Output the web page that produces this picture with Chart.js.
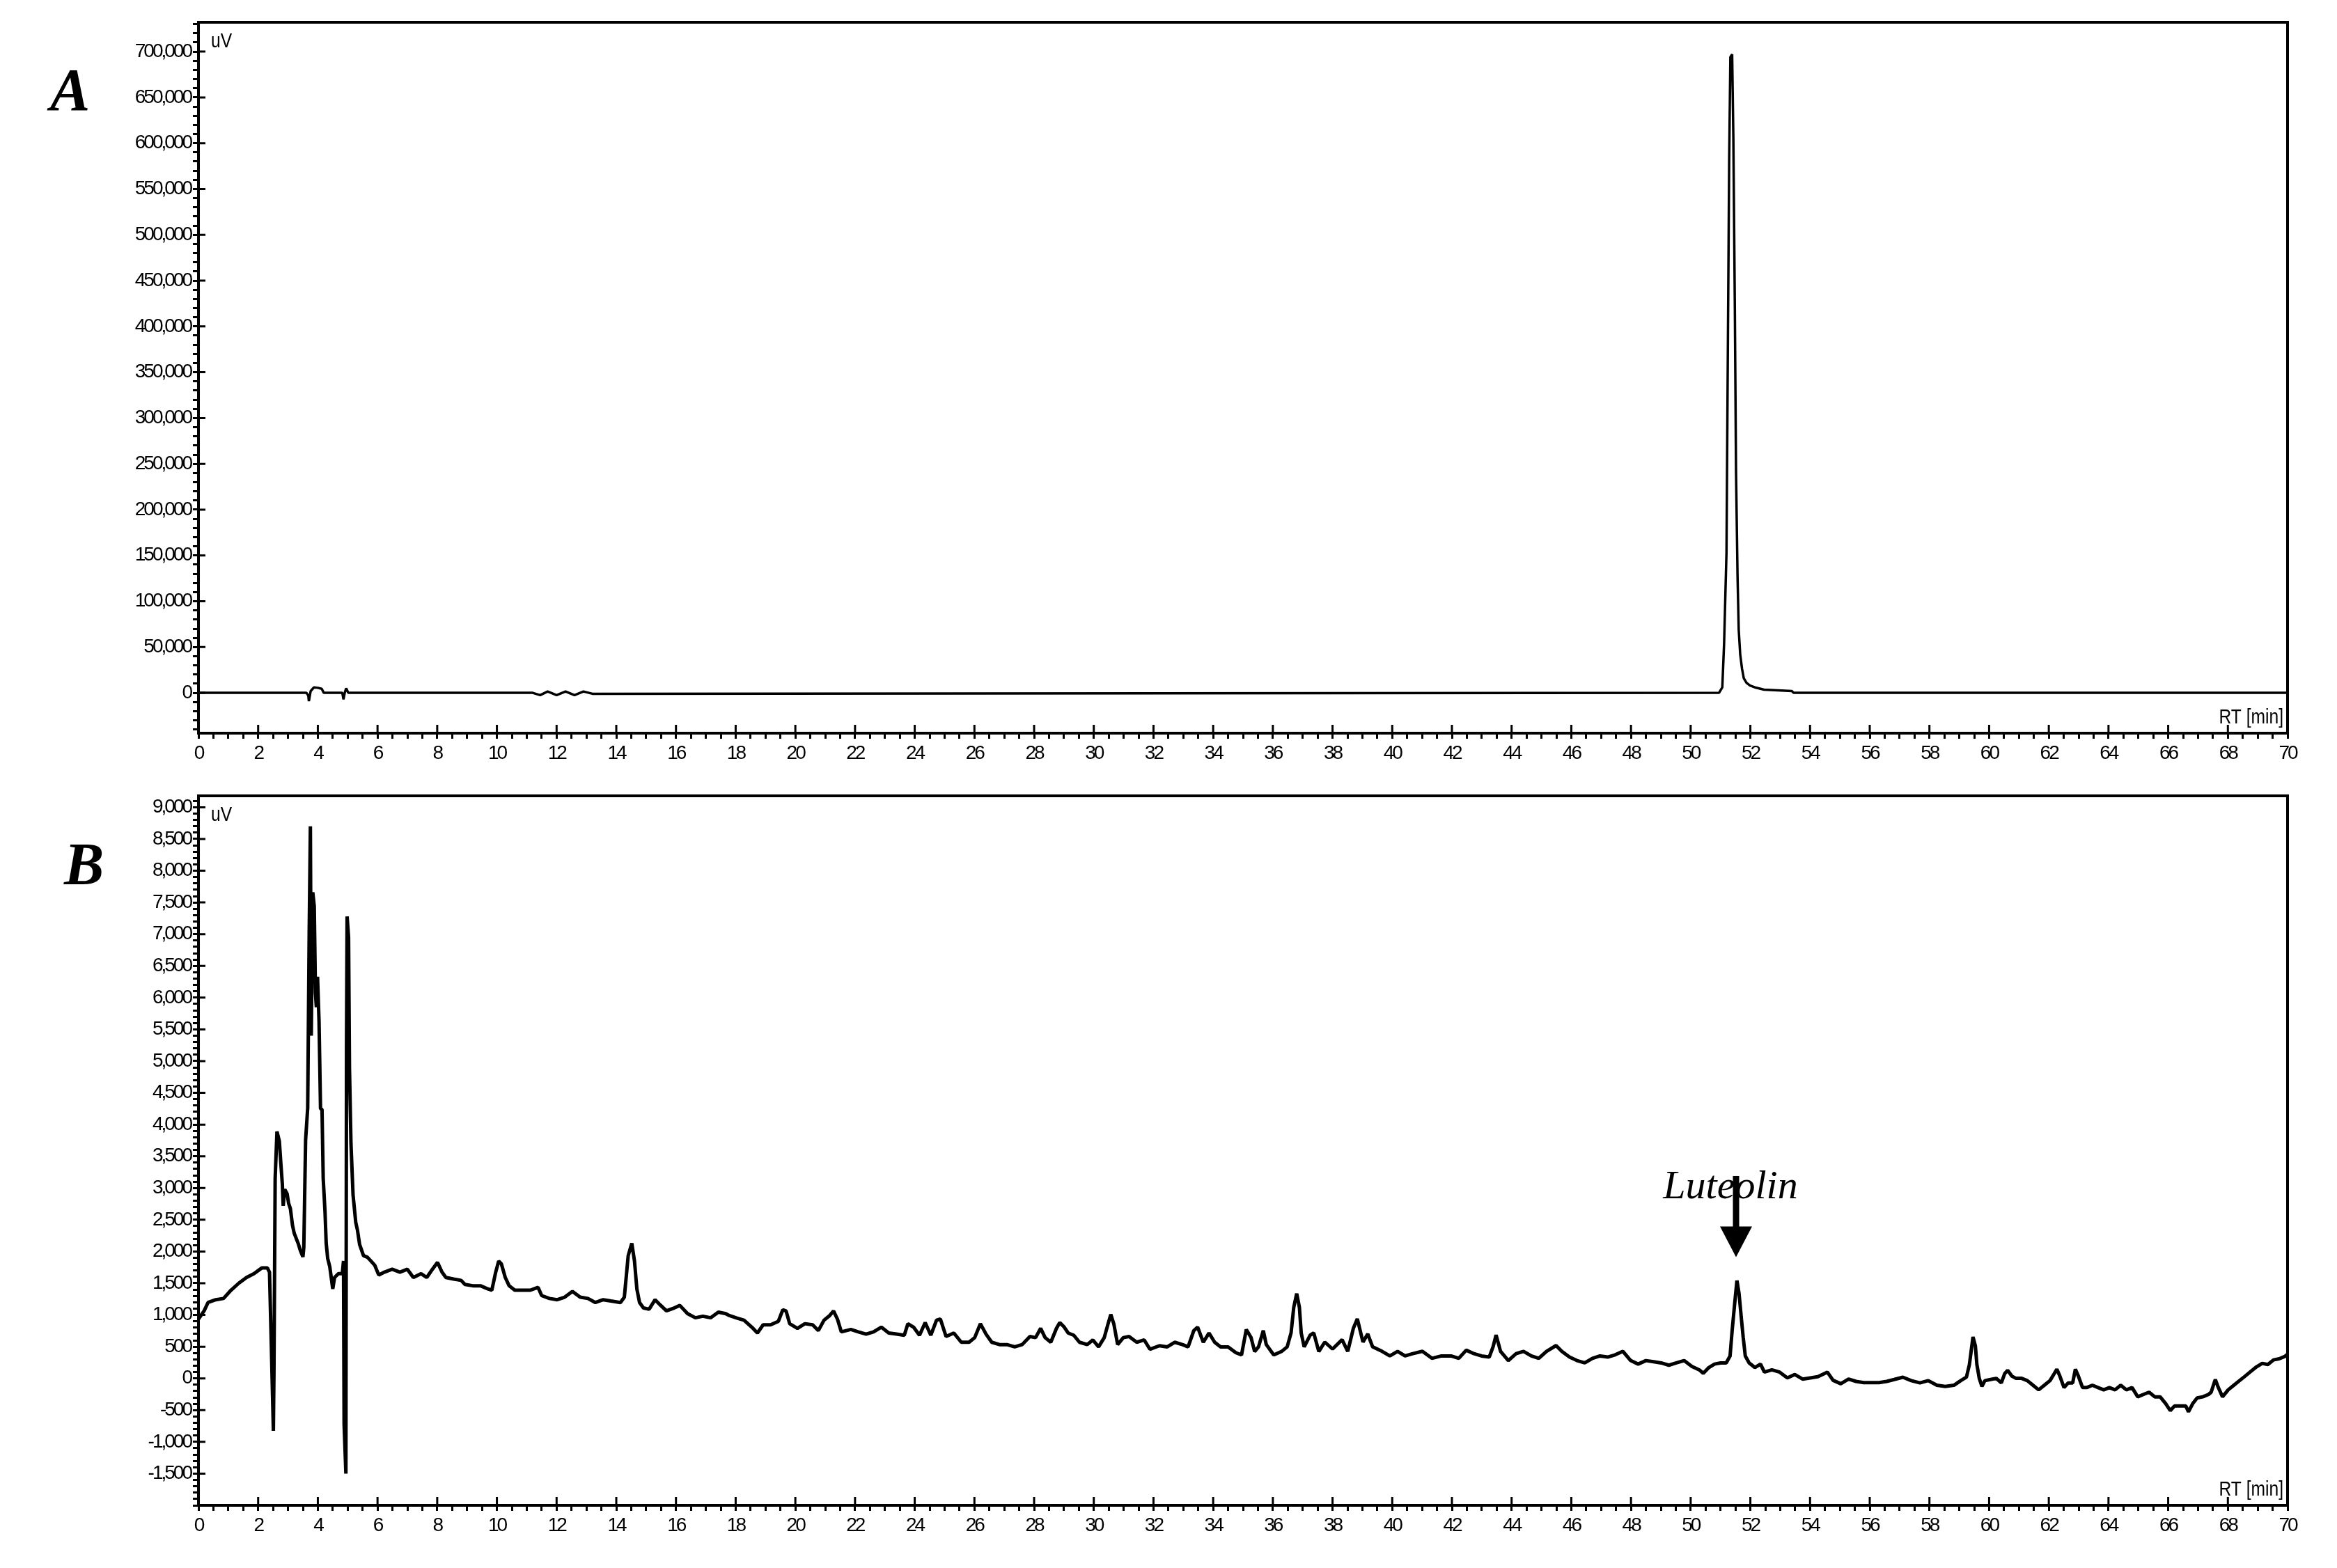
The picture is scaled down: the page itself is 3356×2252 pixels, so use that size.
<!DOCTYPE html>
<html>
<head>
<meta charset="utf-8">
<title>HPLC chromatograms - luteolin</title>
<script src="https://cdn.jsdelivr.net/npm/chart.js@4.4.1/dist/chart.umd.min.js"></script>
<style>
    html, body { margin: 0; padding: 0; background: #fff; }
    #page { position: relative; width: 3356px; height: 2252px; overflow: hidden; }
    .panel { position: absolute; left: 0; width: 3356px; }
    #panelA { top: 0; height: 1110px; }
    #panelB { top: 1110px; height: 1142px; }
    .letter {
        position: absolute;
        font: bold italic 86px "Liberation Serif", "DejaVu Serif", serif;
        line-height: 86px;
        color: #000;
    }
</style>
</head>
<body>
<div id="page">
    <div class="panel" id="panelA"><canvas id="chartA"></canvas></div>
    <div class="panel" id="panelB"><canvas id="chartB"></canvas></div>
    <div class="letter" style="left:72px; top:86px;">A</div>
    <div class="letter" style="left:92px; top:1198px;">B</div>
</div>
<script>
    'use strict';

    // Panel A: luteolin standard (RT in min, signal in uV)
    var rtA = [0, 3.62, 3.68, 3.70, 3.76, 3.87, 4.00, 4.13, 4.20, 4.82,
        4.86, 4.90, 4.95, 5.02, 11.20, 11.45, 11.70, 12.00, 12.30, 12.60,
        12.90, 13.20, 50.95, 51.06, 51.12, 51.20, 51.24, 51.29, 51.33, 51.39,
        51.43, 51.48, 51.52, 51.57, 51.61, 51.66, 51.72, 51.78, 51.87, 51.99,
        52.15, 52.46, 53.39, 53.45, 70];
    var uvA = [0, 0, -3000, -9000, 2000, 6000, 5500, 4500, 0, 0,
        -7000, 0, 5000, 0, 0, -2500, 1500, -2500, 1500, -2500,
        1500, -1000, 0, 6000, 54000, 153000, 347000, 582000, 694000, 697000,
        607000, 420000, 241000, 128000, 69000, 42000, 26500, 16000, 11000, 8000,
        6000, 3500, 2000, 0, 0];

    // Panel B: sample extract, read in four stretches
    var rtB1 = [0.00, 0.19, 0.32, 0.58, 0.84, 1.09, 1.35, 1.61, 1.86, 2.12,
        2.31, 2.38, 2.44, 2.51, 2.53, 2.57, 2.63, 2.71, 2.76, 2.81,
        2.84, 2.89, 2.97, 3.02, 3.08, 3.15, 3.21, 3.28, 3.34, 3.41,
        3.50, 3.53, 3.59, 3.66, 3.71, 3.75, 3.78, 3.83, 3.88, 3.92,
        3.95, 3.99, 4.04, 4.09, 4.14, 4.18, 4.24, 4.28, 4.33, 4.40,
        4.50, 4.56, 4.69, 4.82, 4.86, 4.88, 4.94, 4.96, 4.98, 5.03,
        5.06, 5.11, 5.18, 5.27, 5.33, 5.40, 5.53, 5.66, 5.78, 5.91,
        6.04, 6.23, 6.49, 6.75, 7.00, 7.20, 7.46, 7.65, 7.84, 8.01,
        8.16, 8.29, 8.55, 8.80, 8.93, 9.19, 9.45, 9.70, 9.83, 9.96,
        10.06, 10.15, 10.28, 10.41, 10.60, 10.86, 11.12, 11.38, 11.50, 11.76,
        12.02, 12.27, 12.53, 12.79, 13.05, 13.30, 13.56, 13.82, 14.14, 14.27,
        14.40, 14.52, 14.61, 14.69, 14.78, 14.91, 15.10, 15.30, 15.49, 15.68,
        15.94, 16.13, 16.39, 16.65, 16.90, 17.16, 17.42, 17.67];
    var uvB1 = [935, 1065, 1196, 1240, 1260, 1390, 1500, 1590, 1650, 1740,
        1740, 1675, 545, -826, 110, 3150, 3890, 3740, 3390, 3065,
        2720, 2980, 2910, 2760, 2675, 2415, 2285, 2200, 2130, 2020,
        1915, 2065, 3760, 4260, 7020, 8700, 5400, 7660, 7440, 6070,
        5850, 6330, 5630, 4250, 4240, 3150, 2630, 2130, 1890, 1760,
        1410, 1590, 1650, 1650, 1850, -720, -1500, 5200, 7280, 6950,
        4890, 3700, 2890, 2460, 2330, 2110, 1935, 1910, 1850, 1780,
        1630, 1675, 1720, 1675, 1720, 1590, 1650, 1590, 1720, 1830,
        1675, 1590, 1565, 1545, 1480, 1460, 1460, 1410, 1390, 1675,
        1850, 1805, 1590, 1460, 1390, 1390, 1390, 1435, 1305, 1260,
        1240, 1280, 1370, 1280, 1260, 1196, 1240, 1220, 1196, 1280,
        1935, 2130, 1850, 1410, 1196, 1110, 1090, 1240, 1150, 1065,
        1110, 1150, 1020, 955, 980, 955, 1045, 1020];

    var rtB2 = [17.77, 18.03, 18.28, 18.54, 18.73, 18.92, 19.17, 19.43, 19.58, 19.69,
        19.81, 20.07, 20.32, 20.58, 20.77, 20.96, 21.15, 21.28, 21.41, 21.54,
        21.86, 22.11, 22.37, 22.62, 22.88, 23.13, 23.39, 23.65, 23.77, 23.96,
        24.16, 24.35, 24.54, 24.73, 24.86, 25.05, 25.31, 25.56, 25.82, 26.01,
        26.20, 26.39, 26.58, 26.84, 27.09, 27.35, 27.60, 27.86, 28.05, 28.22,
        28.37, 28.56, 28.75, 28.86, 29.01, 29.14, 29.33, 29.52, 29.78, 29.97,
        30.16, 30.35, 30.48, 30.57, 30.67, 30.80, 30.99, 31.18, 31.44, 31.69,
        31.88, 32.20, 32.46, 32.71, 32.97, 33.16, 33.35, 33.48, 33.67, 33.86,
        34.05, 34.25, 34.50, 34.76, 34.95, 35.11, 35.27, 35.39, 35.52, 35.68,
        35.78, 36.03, 36.29, 36.48, 36.61, 36.70, 36.80, 36.89, 36.95, 37.05,
        37.25, 37.37, 37.54];
    var uvB2 = [994, 953, 917, 808, 716, 844, 844, 899, 1081, 1063,
        862, 789, 862, 844, 753, 917, 990, 1063, 935, 734,
        771, 734, 698, 734, 808, 716, 698, 680, 862, 808,
        680, 880, 680, 917, 935, 661, 716, 570, 570, 643,
        862, 698, 570, 533, 533, 497, 533, 661, 643, 789,
        643, 570, 789, 880, 808, 716, 680, 570, 533, 606,
        497, 643, 862, 1008, 862, 533, 643, 661, 570, 606,
        460, 515, 497, 570, 533, 497, 753, 808, 570, 716,
        570, 497, 497, 406, 370, 771, 643, 424, 497, 753,
        533, 370, 424, 497, 716, 1118, 1337, 1118, 716, 497,
        680, 716, 424];

    var rtB3 = [37.74, 38.00, 38.32, 38.51, 38.70, 38.83, 39.02, 39.18, 39.34, 39.66,
        39.92, 40.18, 40.43, 40.69, 41.01, 41.33, 41.65, 41.97, 42.23, 42.48,
        42.74, 42.99, 43.25, 43.38, 43.48, 43.63, 43.89, 44.15, 44.40, 44.66,
        44.91, 45.17, 45.49, 45.68, 45.94, 46.19, 46.45, 46.71, 46.96, 47.22,
        47.47, 47.73, 47.99, 48.24, 48.50, 48.76, 49.01, 49.27, 49.52, 49.78,
        50.04, 50.29, 50.42, 50.61, 50.80, 51.00, 51.19, 51.32, 51.39, 51.47,
        51.55, 51.62, 51.70, 51.76, 51.83, 51.96, 52.15, 52.34, 52.47, 52.72,
        52.98, 53.24, 53.49, 53.75, 54.01, 54.26, 54.58, 54.77, 55.03, 55.29,
        55.54, 55.80, 56.05, 56.31, 56.57];
    var uvB3 = [573, 463, 610, 427, 793, 939, 573, 701, 500, 427,
        354, 427, 354, 390, 427, 317, 354, 354, 317, 445,
        390, 354, 336, 500, 683, 427, 281, 390, 427, 354,
        317, 427, 518, 427, 336, 281, 244, 317, 354, 336,
        372, 427, 281, 226, 281, 263, 244, 208, 244, 281,
        190, 135, 80, 172, 226, 244, 244, 354, 756, 1158,
        1541, 1340, 939, 646, 354, 244, 172, 226, 99, 135,
        99, 8, 62, -11, 8, 26, 99, -29, -84, -11,
        -47, -66, -66, -66, -47];

    var rtB4 = [56.82, 57.11, 57.39, 57.68, 57.96, 58.25, 58.53, 58.82, 59.05, 59.24,
        59.34, 59.40, 59.46, 59.54, 59.59, 59.67, 59.76, 59.86, 60.05, 60.24,
        60.41, 60.52, 60.62, 60.76, 60.90, 61.09, 61.28, 61.47, 61.66, 61.85,
        62.04, 62.18, 62.27, 62.37, 62.51, 62.65, 62.80, 62.89, 62.99, 63.13,
        63.27, 63.46, 63.65, 63.84, 64.03, 64.22, 64.41, 64.60, 64.79, 64.98,
        65.17, 65.36, 65.55, 65.73, 65.92, 66.07, 66.21, 66.40, 66.59, 66.68,
        66.82, 66.97, 67.16, 67.35, 67.44, 67.54, 67.58, 67.68, 67.82, 68.01,
        68.20, 68.39, 68.58, 68.77, 68.96, 69.15, 69.34, 69.53, 69.72, 69.91,
        70.00];
    var uvB4 = [-17, 19, -35, -71, -35, -108, -126, -108, -35, 19,
        219, 437, 655, 510, 219, 1, -126, -35, -17, 1,
        -71, 74, 128, 37, 1, 1, -35, -108, -180, -108,
        -35, 74, 146, 37, -144, -71, -71, 146, 37, -144,
        -144, -108, -144, -180, -144, -180, -108, -180, -144, -290,
        -253, -217, -290, -290, -399, -508, -435, -435, -435, -526,
        -399, -308, -290, -253, -217, -71, -17, -144, -290, -180,
        -108, -35, 37, 110, 183, 237, 219, 292, 310, 346,
        383];

    // Tick labels
    var rtTicks = [];
    for (var t = 0; t <= 70; t += 2) { rtTicks.push(t); }
    var uvTicksA = [0, 50000, 100000, 150000, 200000, 250000, 300000, 350000,
        400000, 450000, 500000, 550000, 600000, 650000, 700000];
    var uvTicksB = [-1500, -1000, -500, 0, 500, 1000, 1500, 2000, 2500, 3000,
        3500, 4000, 4500, 5000, 5500, 6000, 6500, 7000, 7500, 8000, 8500, 9000];

    // Luteolin marker (RT, arrow top / tip and label baseline in uV)
    var luteolinRT = 51.52;
    var luteolinArrow = [3190, 1910];
    var luteolinLabelUV = 2840;

    var AXIS_FONT = '"Liberation Sans Narrow", "Liberation Sans", Arial, sans-serif';

    function toPoints(xs, ys) {
        return xs.map(function (x, i) { return {x: x, y: ys[i]}; });
    }

    function fmt(v) {
        return v.toLocaleString('en-US');
    }

    // minor tick marks at every step inside the axis range
    function evenTicks(step) {
        return function (scale) {
            var ticks = [];
            var first = Math.ceil(scale.min / step - 1e-9);
            var last = Math.floor(scale.max / step + 1e-9);
            for (var k = first; k <= last; k++) {
                ticks.push({value: Math.round(k * step * 100) / 100});
            }
            scale.ticks = ticks;
        };
    }

    // the original captions use a condensed face
    function narrowText(ctx, text, x, y, align) {
        ctx.save();
        ctx.translate(x, y);
        ctx.scale(0.82, 1);
        ctx.textAlign = align;
        ctx.fillText(text, 0, 0);
        ctx.restore();
    }

    // frame, inward major ticks and the in-plot unit captions
    var framePlugin = {
        id: 'frame',
        beforeDraw: function (chart) {
            // tight tick labels, like the instrument's narrow font
            chart.ctx.letterSpacing = '-3px';
        },
        afterDraw: function (chart, args, opts) {
            var ctx = chart.ctx;
            var area = chart.chartArea;
            var xScale = chart.scales.x;
            var yScale = chart.scales.y;

            ctx.save();
            ctx.letterSpacing = '0px';
            ctx.strokeStyle = '#000';
            ctx.lineWidth = 4;
            ctx.beginPath();
            ctx.moveTo(area.left, area.top);
            ctx.lineTo(area.right, area.top);
            ctx.lineTo(area.right, area.bottom);
            ctx.stroke();

            ctx.lineWidth = 3;
            ctx.beginPath();
            opts.xMajor.forEach(function (v) {
                var px = xScale.getPixelForValue(v);
                ctx.moveTo(px, area.bottom);
                ctx.lineTo(px, area.bottom - 12);
            });
            opts.yMajor.forEach(function (v) {
                var py = yScale.getPixelForValue(v);
                ctx.moveTo(area.left, py);
                ctx.lineTo(area.left + 10, py);
            });
            ctx.stroke();

            ctx.fillStyle = '#000';
            ctx.font = '30px ' + AXIS_FONT;
            ctx.textBaseline = 'top';
            narrowText(ctx, 'uV', area.left + 18, area.top + 13, 'left');
            ctx.textBaseline = 'alphabetic';
            narrowText(ctx, 'RT [min]', area.right - 6, area.bottom - 14, 'right');
            ctx.restore();
        }
    };

    var luteolinPlugin = {
        id: 'luteolin',
        afterDatasetsDraw: function (chart) {
            var ctx = chart.ctx;
            var x = chart.scales.x.getPixelForValue(luteolinRT);
            var yTop = chart.scales.y.getPixelForValue(luteolinArrow[0]);
            var yTip = chart.scales.y.getPixelForValue(luteolinArrow[1]);
            var yText = chart.scales.y.getPixelForValue(luteolinLabelUV);

            ctx.save();
            ctx.letterSpacing = '0px';
            ctx.fillStyle = '#000';
            ctx.font = 'italic 58px "Liberation Serif", "DejaVu Serif", serif';
            ctx.textAlign = 'center';
            ctx.textBaseline = 'alphabetic';
            ctx.fillText('Luteolin', x - 8, yText);

            ctx.fillRect(x - 4.5, yTop, 9, (yTip - 43) - yTop);
            ctx.beginPath();
            ctx.moveTo(x - 23, yTip - 44);
            ctx.lineTo(x + 23, yTip - 44);
            ctx.lineTo(x, yTip);
            ctx.closePath();
            ctx.fill();
            ctx.restore();
        }
    };

    function buildChart(canvasId, cfg) {
        var ctx = document.getElementById(canvasId);
        return new Chart(ctx, {
            type: 'line',
            data: {
                datasets: [{
                    data: cfg.points,
                    borderColor: '#000',
                    borderWidth: cfg.lineWidth,
                    borderJoinStyle: 'bevel',
                    pointRadius: 0,
                    tension: 0,
                    fill: false
                }]
            },
            plugins: cfg.extraPlugins.concat([framePlugin]),
            options: {
                responsive: true,
                maintainAspectRatio: false,
                animation: false,
                events: [],
                layout: {
                    padding: {top: cfg.padTop, right: 71, left: 0, bottom: 0}
                },
                plugins: {
                    legend: {display: false},
                    tooltip: {enabled: false},
                    frame: {xMajor: rtTicks, yMajor: cfg.yLabels}
                },
                scales: {
                    x: {
                        type: 'linear',
                        min: 0,
                        max: 70,
                        afterBuildTicks: evenTicks(0.5),
                        afterFit: function (scale) { scale.height = cfg.xHeight; },
                        border: {display: true, color: '#000', width: 4},
                        grid: {
                            drawOnChartArea: false,
                            drawTicks: true,
                            tickLength: 8,
                            color: '#000',
                            lineWidth: 3
                        },
                        ticks: {
                            autoSkip: false,
                            maxRotation: 0,
                            padding: 4,
                            color: '#000',
                            font: {family: AXIS_FONT, size: 28},
                            callback: function (v) {
                                return rtTicks.indexOf(v) !== -1 ? String(v) : '';
                            }
                        }
                    },
                    y: {
                        type: 'linear',
                        min: cfg.yMin,
                        max: cfg.yMax,
                        afterBuildTicks: evenTicks(cfg.yStep),
                        afterFit: function (scale) { scale.width = 285; },
                        border: {display: true, color: '#000', width: 4},
                        grid: {
                            drawOnChartArea: false,
                            drawTicks: true,
                            tickLength: 8,
                            color: '#000',
                            lineWidth: 3
                        },
                        ticks: {
                            autoSkip: false,
                            padding: 3,
                            color: '#000',
                            font: {family: AXIS_FONT, size: 28},
                            callback: function (v) {
                                return cfg.yLabels.indexOf(v) !== -1 ? fmt(v) : '';
                            }
                        }
                    }
                }
            }
        });
    }

    buildChart('chartA', {
        points: toPoints(rtA, uvA),
        lineWidth: 3.5,
        padTop: 32,
        xHeight: 57,
        yMin: -44000,
        yMax: 732000,
        yStep: 10000,
        yLabels: uvTicksA,
        extraPlugins: []
    });

    buildChart('chartB', {
        points: toPoints(rtB1.concat(rtB2, rtB3, rtB4), uvB1.concat(uvB2, uvB3, uvB4)),
        lineWidth: 5,
        padTop: 33,
        xHeight: 90,
        yMin: -2000,
        yMax: 9180,
        yStep: 100,
        yLabels: uvTicksB,
        extraPlugins: [luteolinPlugin]
    });
</script>
</body>
</html>
